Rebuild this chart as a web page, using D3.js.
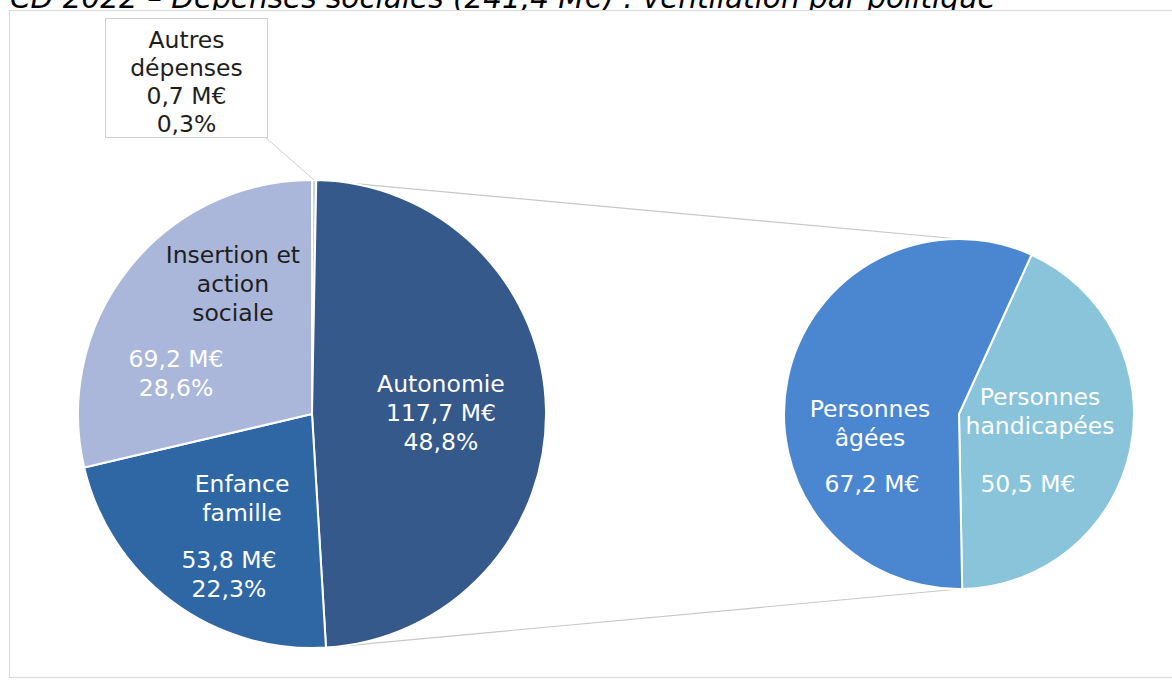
<!DOCTYPE html>
<html>
<head>
<meta charset="utf-8">
<script src="https://cdn.jsdelivr.net/npm/d3@7"></script>
<style>
  body { margin: 0; background: #fff; }
  svg { display: block; font-family: Verdana, 'DejaVu Sans', sans-serif; }
</style>
</head>
<body>
<div id="chart"></div>
<script>
/* global d3 */

// main pie, clockwise from 12 o'clock
const mainCategories = ['Autres dépenses', 'Autonomie', 'Enfance famille', 'Insertion et action sociale']
const mainValues = [0.7, 117.7, 53.8, 69.2]
const mainPercents = ['0,3%', '48,8%', '22,3%', '28,6%']

// secondary pie, detail of "Autonomie"
const subCategories = ['Personnes handicapées', 'Personnes âgées']
const subValues = [50.5, 67.2]

const title = 'CD 2022 – Dépenses sociales (241,4 M€) : ventilation par politique'

const W = 1172
const H = 681
const FONT = 23.5
const LH = 29

const main = { cx: 312, cy: 414, r: 234 }
const sub = { cx: 959, cy: 414, r: 175, start: 24.5 }

const mainColors = d3.scaleOrdinal()
  .domain(mainCategories)
  .range(['#c9d3ea', '#35598a', '#2f67a5', '#aab7da'])
const subColors = d3.scaleOrdinal()
  .domain(subCategories)
  .range(['#89c4db', '#4b87d1'])

const fmt = v => d3.format('.1f')(v).replace('.', ',') + ' M€'
const rad = deg => deg * Math.PI / 180

const svg = d3.select('#chart').append('svg')
  .attr('width', W)
  .attr('height', H)

// title is clipped by the top of the page, as in the source
svg.append('text')
  .attr('x', 10)
  .attr('y', 7.5)
  .attr('font-size', 29.5)
  .attr('font-style', 'italic')
  .attr('fill', '#000')
  .text(title)

// chart area
svg.append('rect')
  .attr('x', 9.5)
  .attr('y', 10.5)
  .attr('width', W)
  .attr('height', 667)
  .attr('fill', '#fff')
  .attr('stroke', '#d9d9d9')

const pie = d3.pie().sort(null).value(d => d.value)

const mainArcs = pie(mainCategories.map((c, i) => ({ cat: c, value: mainValues[i], pct: mainPercents[i] })))
const subArcs = pie
  .startAngle(rad(sub.start))
  .endAngle(rad(sub.start) + 2 * Math.PI)(subCategories.map((c, i) => ({ cat: c, value: subValues[i] })))

const polar = (p, a, k = 1) => [p.cx + p.r * k * Math.sin(a), p.cy - p.r * k * Math.cos(a)]

// connector lines between the split slice and the secondary pie
const split = mainArcs[1]
const lines = [
  [polar(main, split.startAngle), [sub.cx, sub.cy - sub.r]],
  [polar(main, split.endAngle), [sub.cx, sub.cy + sub.r]]
]
svg.append('g').selectAll('line').data(lines).join('line')
  .attr('x1', d => d[0][0]).attr('y1', d => d[0][1])
  .attr('x2', d => d[1][0]).attr('y2', d => d[1][1])
  .attr('stroke', '#c8c8c8')
  .attr('stroke-width', 1.2)

const mainArc = d3.arc().innerRadius(0).outerRadius(main.r)
const subArc = d3.arc().innerRadius(0).outerRadius(sub.r)

svg.append('g')
  .attr('transform', `translate(${main.cx},${main.cy})`)
  .selectAll('path').data(mainArcs).join('path')
  .attr('d', mainArc)
  .attr('fill', d => mainColors(d.data.cat))
  .attr('stroke', '#fff')
  .attr('stroke-width', 2)

svg.append('g')
  .attr('transform', `translate(${sub.cx},${sub.cy})`)
  .selectAll('path').data(subArcs).join('path')
  .attr('d', subArc)
  .attr('fill', d => subColors(d.data.cat))
  .attr('stroke', '#fff')
  .attr('stroke-width', 2)

// label groups: anchor in radius units from the pie centre, first baseline
function textBlock (p, fx, fy, lines, color) {
  const t = svg.append('text')
    .attr('text-anchor', 'middle')
    .attr('font-size', FONT)
    .attr('fill', color)
  lines.forEach((s, i) => {
    t.append('tspan')
      .attr('x', p.cx + fx * p.r)
      .attr('y', p.cy + fy * p.r + i * LH)
      .text(s)
  })
}

const [autres, autonomie, enfance, insertion] = mainArcs
textBlock(main, 0.551, -0.094, ['Autonomie', fmt(autonomie.data.value), autonomie.data.pct], '#fff')
textBlock(main, -0.299, 0.333, ['Enfance', 'famille'], '#fff')
textBlock(main, -0.355, 0.658, [fmt(enfance.data.value), enfance.data.pct], '#fff')
textBlock(main, -0.338, -0.645, ['Insertion et', 'action', 'sociale'], '#1e1e1e')
textBlock(main, -0.581, -0.201, [fmt(insertion.data.value), insertion.data.pct], '#fff')

const [handi, agees] = subArcs
textBlock(sub, -0.509, 0.017, ['Personnes', 'âgées'], '#fff')
textBlock(sub, -0.497, 0.446, [fmt(agees.data.value)], '#fff')
textBlock(sub, 0.463, -0.051, ['Personnes', 'handicapées'], '#fff')
textBlock(sub, 0.394, 0.446, [fmt(handi.data.value)], '#fff')

// callout for the tiny slice
const box = { x: 105.5, y: 18.5, w: 162, h: 119 }
const tip = polar(main, (autres.startAngle + autres.endAngle) / 2)
svg.append('line')
  .attr('x1', box.x + box.w - 2).attr('y1', box.y + box.h)
  .attr('x2', tip[0]).attr('y2', tip[1])
  .attr('stroke', '#d0d0d0')
svg.append('rect')
  .attr('x', box.x).attr('y', box.y)
  .attr('width', box.w).attr('height', box.h)
  .attr('fill', '#fff')
  .attr('stroke', '#d0d0d0')
const bt = svg.append('text')
  .attr('text-anchor', 'middle')
  .attr('font-size', FONT)
  .attr('fill', '#1e1e1e')
;['Autres', 'dépenses', fmt(autres.data.value), autres.data.pct].forEach((s, i) => {
  bt.append('tspan')
    .attr('x', box.x + box.w / 2)
    .attr('y', box.y + 29 + i * 28)
    .text(s)
})
</script>
</body>
</html>
